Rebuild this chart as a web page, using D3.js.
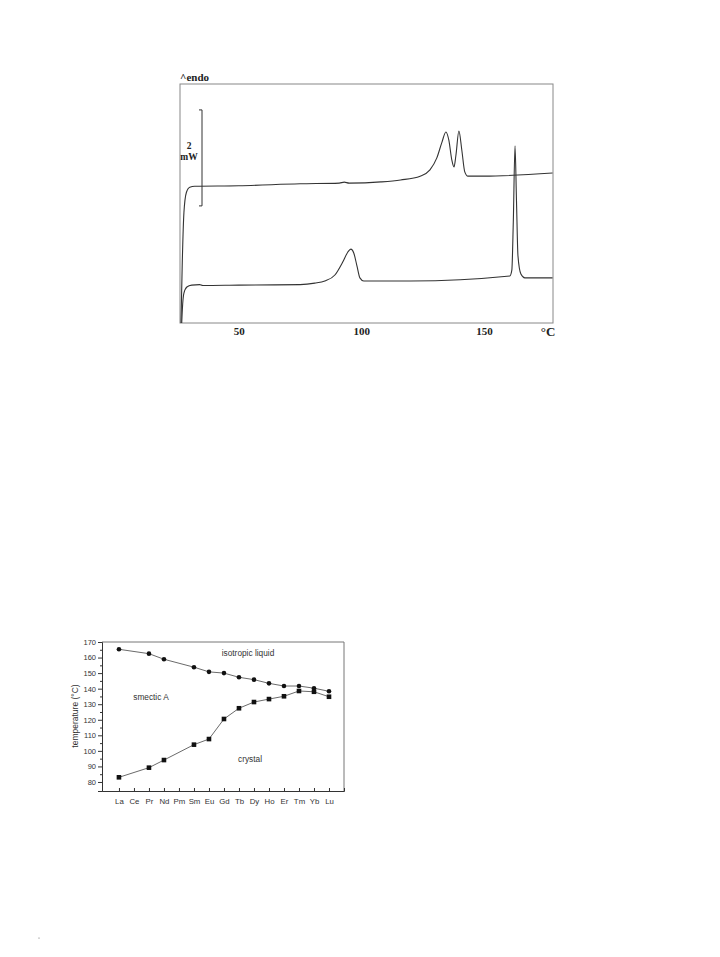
<!DOCTYPE html>
<html><head><meta charset="utf-8">
<script src="https://cdn.jsdelivr.net/npm/d3@7"></script>
<style>body{margin:0;background:#fff}svg{display:block}</style>
</head><body>
<svg id="c" width="720" height="957"></svg>
<script>
// ---- DSC thermogram (top) ----
const dscXTicks = [50, 100, 150];
const upperT  = [26.4, 26.9, 27.6, 28.6, 30.0, 32.0, 50.0, 75.0, 91.0, 93.0, 95.0, 108.0, 116.0, 124.0, 128.0, 130.8, 132.9, 134.5, 135.7, 136.9, 137.8, 138.6, 139.8, 141.0, 142.2, 143.5, 150.0, 178.0];
const upperMW = [0, 1.2, 2.3, 2.72, 2.83, 2.85, 2.86, 2.9, 2.915, 2.935, 2.915, 2.94, 2.98, 3.06, 3.19, 3.44, 3.77, 3.98, 3.81, 3.40, 3.25, 3.5, 4.0, 3.6, 3.15, 3.06, 3.06, 3.125];
const lowerT  = [26.7, 27.1, 27.6, 28.8, 30.8, 34.0, 35.3, 50.0, 75.0, 81.0, 85.1, 89.2, 92.4, 94.5, 95.7, 96.9, 98.2, 99.4, 101.0, 120.0, 160.6, 161.4, 162.0, 162.7, 163.3, 163.9, 165.1, 166.7, 178.0];
const lowerMW = [0, 0.4, 0.62, 0.75, 0.79, 0.80, 0.78, 0.79, 0.80, 0.83, 0.875, 1.0, 1.27, 1.48, 1.54, 1.46, 1.19, 0.94, 0.875, 0.875, 0.98, 1.1, 2.1, 3.69, 2.55, 1.4, 1.02, 0.94, 0.94];
const scaleBarMW = [2.44, 4.44];

// ---- phase diagram (bottom) ----
const lanthanides = ["La","Ce","Pr","Nd","Pm","Sm","Eu","Gd","Tb","Dy","Ho","Er","Tm","Yb","Lu"];
const isoNames  = ["La","Pr","Nd","Sm","Eu","Gd","Tb","Dy","Ho","Er","Tm","Yb","Lu"];
const isoTemps  = [165.3, 162.5, 158.9, 153.8, 150.8, 150.0, 147.3, 145.8, 143.4, 141.7, 141.7, 140.3, 138.3];
const crysNames = ["La","Pr","Nd","Sm","Eu","Gd","Tb","Dy","Ho","Er","Tm","Yb","Lu"];
const crysTemps = [83.0, 89.2, 94.1, 104.0, 107.6, 120.5, 127.4, 131.4, 133.3, 135.1, 138.5, 138.0, 134.8];
const yTicks = [80, 90, 100, 110, 120, 130, 140, 150, 160, 170];

const svg = d3.select("#c");

// ===== Top chart =====
const t = svg.append("g");
const x1 = d3.scaleLinear().domain([26, 178.2]).range([180, 553]);
const y1 = d3.scaleLinear().domain([0, 4.98]).range([323, 84]);
const serif = "'Liberation Serif','DejaVu Serif',serif";

t.append("rect").attr("x", 180).attr("y", 84).attr("width", 373).attr("height", 239)
  .attr("fill", "none").attr("stroke", "#888").attr("stroke-width", 1);

t.append("text").attr("x", 180).attr("y", 81).attr("font-family", serif)
  .attr("font-weight", "bold").attr("font-size", 11).attr("fill", "#222").text("^endo");

const ax1 = d3.axisBottom(x1).tickValues(dscXTicks).tickSize(0).tickPadding(4);
const ag = t.append("g").attr("transform", "translate(0,323)").call(ax1);
ag.select(".domain").remove();
ag.selectAll("text").attr("font-family", serif).attr("font-weight", "bold")
  .attr("font-size", 11).attr("fill", "#222");
t.append("text").attr("x", 548).attr("y", 336).attr("text-anchor", "middle")
  .attr("font-family", serif).attr("font-weight", "bold").attr("font-size", 13)
  .attr("fill", "#222").text("°C");

// scale bar
const sbx = 202;
t.append("line").attr("x1", sbx).attr("x2", sbx).attr("y1", y1(scaleBarMW[0])).attr("y2", y1(scaleBarMW[1]))
  .attr("stroke", "#333").attr("stroke-width", 1);
scaleBarMW.forEach(v => t.append("line").attr("x1", sbx - 3).attr("x2", sbx)
  .attr("y1", y1(v)).attr("y2", y1(v)).attr("stroke", "#333"));
t.append("text").attr("x", 189).attr("y", 149).attr("text-anchor", "middle").attr("font-family", serif)
  .attr("font-weight", "bold").attr("font-size", 9.5).attr("fill", "#222").text("2");
t.append("text").attr("x", 189).attr("y", 160).attr("text-anchor", "middle").attr("font-family", serif)
  .attr("font-weight", "bold").attr("font-size", 9.5).attr("fill", "#222").text("mW");

const line1 = d3.line().x(d => x1(d[0])).y(d => y1(d[1])).curve(d3.curveMonotoneX);
t.append("path").attr("d", line1(d3.zip(upperT, upperMW))).attr("fill", "none")
  .attr("stroke", "#333").attr("stroke-width", 1.1);
t.append("path").attr("d", line1(d3.zip(lowerT, lowerMW))).attr("fill", "none")
  .attr("stroke", "#333").attr("stroke-width", 1.1);

// ===== Bottom chart =====
const b = svg.append("g");
const sans = "'Liberation Sans',Arial,sans-serif";
const x2 = d3.scaleLinear().domain([-1.13, 15.0]).range([102, 344]);
const y2 = d3.scaleLinear().domain([74.2, 170]).range([791, 642]);
const idx = n => lanthanides.indexOf(n);

b.append("line").attr("x1", 102).attr("x2", 344).attr("y1", 642).attr("y2", 642).attr("stroke", "#777");
b.append("line").attr("x1", 344).attr("x2", 344).attr("y1", 642).attr("y2", 791).attr("stroke", "#777");

const yAx = d3.axisLeft(y2).tickValues(yTicks).tickSize(4).tickPadding(2);
const yg = b.append("g").attr("transform", "translate(102,0)").call(yAx);
yg.select(".domain").attr("stroke", "#333");
yg.selectAll(".tick line").attr("stroke", "#333");
yg.selectAll("text").attr("font-family", sans).attr("font-size", 7.5).attr("fill", "#333");
const yMinor = d3.axisLeft(y2).tickValues(yTicks.slice(0, -1).map(v => v + 5)).tickSize(2).tickFormat("");
const ymg = b.append("g").attr("transform", "translate(102,0)").call(yMinor);
ymg.select(".domain").remove();
ymg.selectAll(".tick line").attr("stroke", "#333");

const xAx = d3.axisBottom(x2).tickValues(d3.range(lanthanides.length))
  .tickFormat(i => lanthanides[i]).tickSize(-3).tickPadding(7);
const xg = b.append("g").attr("transform", "translate(0,791)").call(xAx);
xg.select(".domain").attr("stroke", "#333");
xg.selectAll(".tick line").attr("stroke", "#333");
xg.selectAll("text").attr("font-family", sans).attr("font-size", 7.8).attr("fill", "#333");

b.append("text").attr("transform", "translate(78,716) rotate(-90)").attr("text-anchor", "middle")
  .attr("font-family", sans).attr("font-size", 8.5).attr("fill", "#333").text("temperature (°C)");

const line2 = d3.line().x(d => x2(idx(d[0]))).y(d => y2(d[1]));
const isoData = d3.zip(isoNames, isoTemps);
const crysData = d3.zip(crysNames, crysTemps);
b.append("path").attr("d", line2(isoData)).attr("fill", "none").attr("stroke", "#444").attr("stroke-width", 0.8);
b.append("path").attr("d", line2(crysData)).attr("fill", "none").attr("stroke", "#444").attr("stroke-width", 0.8);
b.selectAll(".iso").data(isoData).enter().append("circle")
  .attr("cx", d => x2(idx(d[0]))).attr("cy", d => y2(d[1])).attr("r", 2.3).attr("fill", "#111");
b.selectAll(".crys").data(crysData).enter().append("rect")
  .attr("x", d => x2(idx(d[0])) - 2.3).attr("y", d => y2(d[1]) - 2.3)
  .attr("width", 4.6).attr("height", 4.6).attr("fill", "#111");

[["isotropic liquid", 248, 656], ["smectic A", 151, 700], ["crystal", 250, 762]].forEach(l =>
  b.append("text").attr("x", l[1]).attr("y", l[2]).attr("text-anchor", "middle")
    .attr("font-family", sans).attr("font-size", 8.3).attr("fill", "#333").text(l[0]));

svg.append("circle").attr("cx", 39).attr("cy", 938).attr("r", 0.6).attr("fill", "#666");
</script>
</body></html>
